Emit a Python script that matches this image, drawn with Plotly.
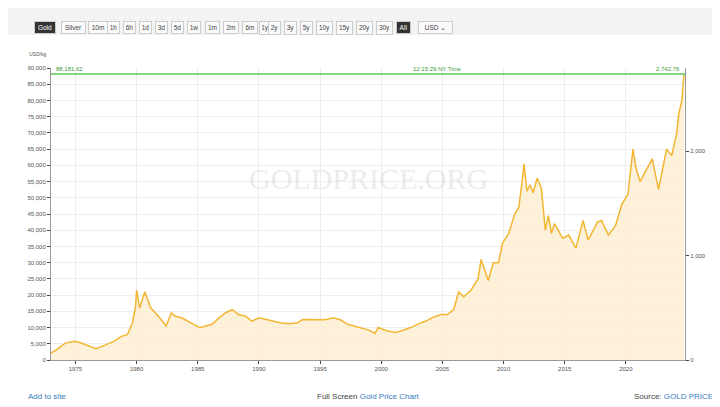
import plotly.graph_objects as go

# gold price, USD per kg
dates = ["1973-01", "1973-07", "1974-03", "1974-12", "1975-06", "1976-03", "1976-09", "1977-06",
         "1978-03", "1978-10", "1979-04", "1979-09", "1979-12", "1980-01", "1980-04", "1980-09",
         "1981-03", "1981-09", "1982-06", "1982-11", "1983-03", "1983-09", "1984-03", "1984-10",
         "1985-03", "1985-09", "1986-03", "1986-10", "1987-04", "1987-11", "1988-05", "1988-12",
         "1989-06", "1990-01", "1990-08", "1991-03", "1991-10", "1992-06", "1993-03", "1993-08",
         "1994-03", "1994-10", "1995-06", "1996-02", "1996-09", "1997-04", "1997-10", "1998-06",
         "1999-01", "1999-07", "1999-10", "2000-06", "2001-03", "2001-09", "2002-06", "2003-02",
         "2003-09", "2004-04", "2004-12", "2005-06", "2005-12", "2006-05", "2006-10", "2007-05",
         "2007-12", "2008-03", "2008-10", "2009-03", "2009-08", "2009-12", "2010-06", "2010-12",
         "2011-04", "2011-08", "2011-09", "2011-12", "2012-03", "2012-06", "2012-10", "2013-02",
         "2013-06", "2013-09", "2013-12", "2014-03", "2014-11", "2015-05", "2015-12", "2016-07",
         "2016-12", "2017-06", "2017-09", "2018-01", "2018-08", "2019-03", "2019-09", "2020-03",
         "2020-08", "2020-11", "2021-03", "2021-08", "2022-03", "2022-09", "2023-02", "2023-05",
         "2023-10", "2023-12", "2024-03", "2024-05", "2024-08", "2024-10"]
usd_kg = [2100, 3300, 5200, 5800, 5300, 4100, 3500, 4600,
          5800, 7300, 7800, 11500, 16500, 21500, 16000, 21000,
          16000, 14000, 10500, 14500, 13500, 13000, 12000, 11000,
          10000, 10500, 11000, 13000, 14500, 15500, 14000, 13500,
          12000, 13000, 12500, 11800, 11500, 11200, 11500, 12500,
          12500, 12400, 12400, 13000, 12400, 11000, 10500, 9600,
          9200, 8200, 10000, 9000, 8500, 9000, 10000, 11200,
          12000, 13200, 14000, 14000, 15500, 21000, 19500, 21500,
          25000, 31000, 24500, 30000, 30000, 36000, 39000, 45000,
          47000, 57000, 60500, 52000, 54000, 51500, 56000, 53000,
          40000, 44500, 39000, 42000, 37500, 38500, 34500, 43000,
          37000, 40500, 42500, 43000, 38500, 41500, 48000, 51000,
          65000, 59000, 55000, 58000, 62000, 52500, 61000, 65000,
          63000, 66000, 70000, 76000, 80000, 88000]
peak_kg = 88181.62
oz_per_kg = 32.1507

buttons = ["Gold", "Silver", "10m", "1h", "6h", "1d", "3d", "5d", "1w", "1m", "2m", "6m",
           "1y", "2y", "3y", "5y", "10y", "15y", "20y", "30y", "All", "USD ⌄"]
button_left = [15, 40, 70, 92, 108, 124, 140, 156, 172, 189, 207, 226,
               245, 260, 276, 292, 308, 328, 348, 368, 388, 410]
button_right = [37, 65, 90, 105, 121, 137, 153, 169, 186, 204, 223, 242,
                257, 273, 289, 305, 325, 345, 365, 385, 403, 445]


def paper_x(p):
    return (p - 43) / 634


def paper_y(p):
    return (352 - p) / 292


fig = go.Figure()
fig.add_trace(go.Scatter(x=dates, y=usd_kg, mode="lines", fill="tozeroy",
                         line=dict(color="#f2b632", width=1.5),
                         fillcolor="rgba(253,236,205,0.75)", hoverinfo="skip"))
# invisible trace for the right (USD/oz) axis
fig.add_trace(go.Scatter(x=[dates[0]], y=[0], yaxis="y2", mode="markers",
                         marker=dict(opacity=0), hoverinfo="skip"))

fig.add_shape(type="line", xref="paper", x0=0, x1=1, yref="y", y0=peak_kg, y1=peak_kg,
              line=dict(color="#5ccc5c", width=1.5))
fig.add_shape(type="rect", xref="paper", yref="paper", x0=paper_x(0), x1=paper_x(720),
              y0=paper_y(27), y1=paper_y(0), fillcolor="#f3f3f3", line=dict(width=0), layer="below")

anns = [
    dict(x=0.005, y=peak_kg, xref="paper", yref="y", text="88,181.62", xanchor="left", yanchor="bottom",
         font=dict(size=6, color="#3a9a3a"), showarrow=False),
    dict(x=0.61, y=peak_kg, xref="paper", yref="y", text="12:15:29 NY Time", xanchor="center", yanchor="bottom",
         font=dict(size=6, color="#3a9a3a"), showarrow=False),
    dict(x=0.995, y=peak_kg, xref="paper", yref="y", text="2,742.76", xanchor="right", yanchor="bottom",
         font=dict(size=6, color="#3a9a3a"), showarrow=False),
    dict(x=-0.005, y=1.03, xref="paper", yref="paper", text="USD/kg", xanchor="right", yanchor="bottom",
         font=dict(size=5, color="#555"), showarrow=False),
    dict(x=0.5, y=0.62, xref="paper", yref="paper", text="GOLDPRICE.ORG", showarrow=False,
         font=dict(size=30, color="rgba(200,200,200,0.35)", family="Liberation Serif")),
]

for b, l, r in zip(buttons, button_left, button_right):
    dark = b in ("Gold", "All")
    anns.append(dict(x=paper_x((l + r) / 2), y=paper_y(13), xref="paper", yref="paper",
                     text=b, showarrow=False, font=dict(size=6.5, color="white" if dark else "#444"),
                     bgcolor="#333" if dark else "#fafafa", bordercolor="#ccc", borderwidth=1,
                     borderpad=2, width=r - l - 6))

# footer
anns += [
    dict(x=paper_x(18), y=paper_y(395), xref="paper", yref="paper", text="Add to site",
         xanchor="left", showarrow=False, font=dict(size=8, color="#3a7cc0")),
    dict(x=paper_x(360), y=paper_y(395), xref="paper", yref="paper",
         text="Full Screen <span style='color:#3a7cc0'>Gold Price Chart</span>",
         showarrow=False, font=dict(size=8, color="#444")),
    dict(x=paper_x(707), y=paper_y(395), xref="paper", yref="paper",
         text="Source: <span style='color:#3a7cc0'>GOLD PRICE</span>",
         xanchor="right", showarrow=False, font=dict(size=8, color="#444")),
]

fig.update_layout(
    width=720, height=407, margin=dict(l=43, r=43, t=60, b=55),
    paper_bgcolor="white", plot_bgcolor="white", showlegend=False,
    font=dict(family="Liberation Sans", color="#555"),
    annotations=anns,
    xaxis=dict(range=["1973-01-01", "2024-11-01"], dtick="M60", tick0="1975-01-01",
               tickformat="%Y", showgrid=True, gridcolor="#eeeeee", ticks="outside",
               ticklen=3, tickfont=dict(size=6), linecolor="#999", showline=True),
    yaxis=dict(range=[0, 90000], dtick=5000, tickformat=",", showgrid=True, gridcolor="#eeeeee",
               ticks="outside", ticklen=3, tickfont=dict(size=6), showline=True, linecolor="#999"),
    yaxis2=dict(overlaying="y", side="right", range=[0, 90000 / oz_per_kg], tickvals=[0, 1000, 2000],
                tickformat=",", showgrid=False, ticks="outside", ticklen=3, tickfont=dict(size=6),
                showline=True, linecolor="#999"),
)

fig.write_html("out.html")
